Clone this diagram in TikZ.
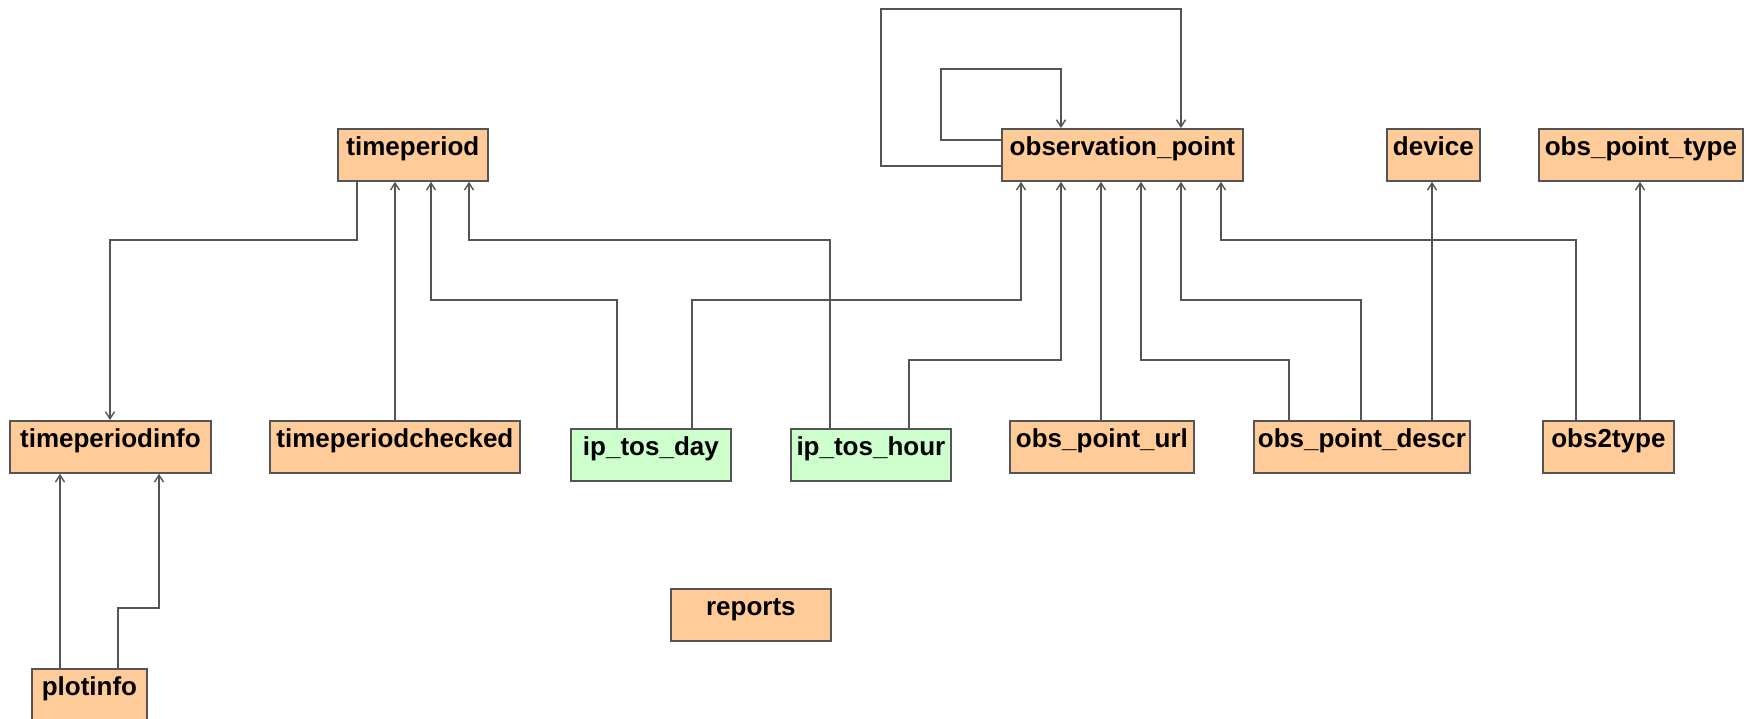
\documentclass[tikz,border=0pt]{standalone}
\usepackage{fontspec}
\setmainfont{Liberation Sans}
\usetikzlibrary{arrows.meta}
\definecolor{peach}{HTML}{FFCC99}
\definecolor{mint}{HTML}{CCFFCC}
\definecolor{edge}{HTML}{555555}
\begin{document}
\begin{tikzpicture}[x=1pt,y=-1pt,
  tbl/.style={draw=edge, line width=1.8pt, fill=peach, anchor=north west,
    inner xsep=0pt, inner ysep=8pt, text height=19pt, text depth=17pt,
    font=\fontsize{26}{30}\selectfont\bfseries},
  gtbl/.style={tbl, fill=mint},
  conn/.style={draw=edge, line width=1.8pt, -{Straight Barb[length=7pt,width=9pt,line width=1.4pt]}}]
\useasboundingbox (0,0) rectangle (1750,718);
% tables
\node[tbl, minimum width=150pt] (timeperiod) at (337,128) {timeperiod};
\node[tbl, minimum width=241pt] (obs) at (1001,128) {observation\_point};
\node[tbl, minimum width=93pt] (device) at (1386,128) {device};
\node[tbl, minimum width=204pt] (optype) at (1538,128) {obs\_point\_type};
\node[tbl, minimum width=201pt] (tpinfo) at (9,420) {timeperiodinfo};
\node[tbl, minimum width=250pt] (tpchecked) at (269,420) {timeperiodchecked};
\node[gtbl, minimum width=160pt] (tosday) at (570,428) {ip\_tos\_day};
\node[gtbl, minimum width=160pt] (toshour) at (790,428) {ip\_tos\_hour};
\node[tbl, minimum width=184pt] (opurl) at (1009,420) {obs\_point\_url};
\node[tbl, minimum width=216pt] (opdescr) at (1253,420) {obs\_point\_descr};
\node[tbl, minimum width=131pt] (o2t) at (1542,420) {obs2type};
\node[tbl, minimum width=160pt] (reports) at (670,588) {reports};
\node[tbl, minimum width=115pt] (plotinfo) at (31,668) {plotinfo};
% connectors
\draw[conn] (357,0 |- timeperiod.south) |- (110,240) -- (110,0 |- tpinfo.north);
\draw[conn] (395,0 |- tpchecked.north) -- (395,0 |- timeperiod.south);
\draw[conn] (617,0 |- tosday.north) |- (431,300) -- (431,0 |- timeperiod.south);
\draw[conn] (830,0 |- toshour.north) |- (469,240) -- (469,0 |- timeperiod.south);
\draw[conn] (692,0 |- tosday.north) |- (1021,300) -- (1021,0 |- obs.south);
\draw[conn] (909,0 |- toshour.north) |- (1061,360) -- (1061,0 |- obs.south);
\draw[conn] (1101,0 |- opurl.north) -- (1101,0 |- obs.south);
\draw[conn] (1289,0 |- opdescr.north) |- (1141,360) -- (1141,0 |- obs.south);
\draw[conn] (1361,0 |- opdescr.north) |- (1181,300) -- (1181,0 |- obs.south);
\draw[conn] (1432,0 |- opdescr.north) -- (1432,0 |- device.south);
\draw[conn] (1576,0 |- o2t.north) |- (1221,240) -- (1221,0 |- obs.south);
\draw[conn] (1640,0 |- o2t.north) -- (1640,0 |- optype.south);
\draw[conn] (obs.west |- 0,166) -| (881,9) -| (1181,0 |- obs.north);
\draw[conn] (obs.west |- 0,140) -| (941,69) -| (1061,0 |- obs.north);
\draw[conn] (60,0 |- plotinfo.north) -- (60,0 |- tpinfo.south);
\draw[conn] (118,0 |- plotinfo.north) |- (159,608) -- (159,0 |- tpinfo.south);
\end{tikzpicture}
\end{document}
